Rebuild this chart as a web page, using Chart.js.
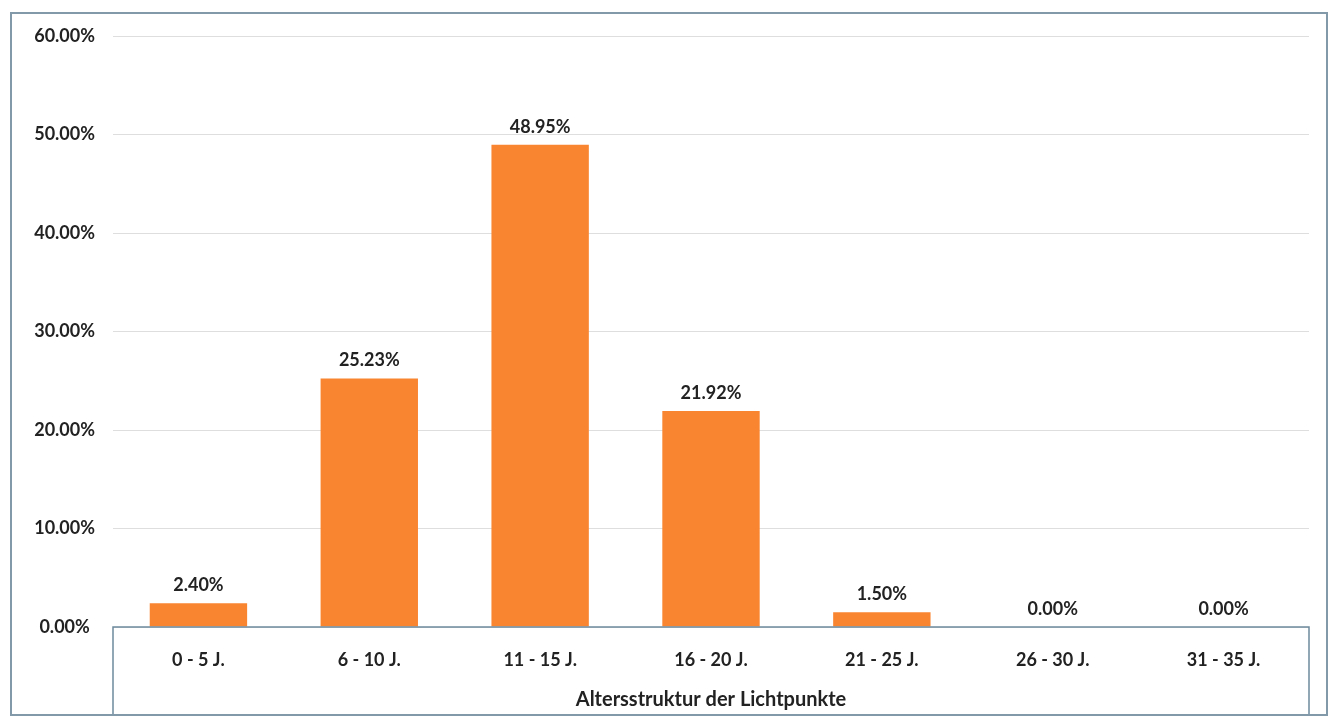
<!DOCTYPE html>
<html>
<head>
<meta charset="utf-8">
<script src="https://cdn.jsdelivr.net/npm/chart.js@4"></script>
<style>
  body { margin: 0; background: #fff; }
  #frame {
    position: absolute;
    left: 10px;
    top: 12px;
    width: 1314px;
    height: 700px;
    border: 2px solid #8299aa;
  }
  canvas { display: block; }
</style>
</head>
<body>
<div id="frame"><canvas id="ageChart"></canvas></div>
<script>
age_groups = ['0 - 5 J.', '6 - 10 J.', '11 - 15 J.', '16 - 20 J.', '21 - 25 J.', '26 - 30 J.', '31 - 35 J.']
age_shares = [2.40, 25.23, 48.95, 21.92, 1.50, 0.00, 0.00]
axis_title = 'Altersstruktur der Lichtpunkte'

const bar_color = '#f98531'
const text_color = '#222222'
const axis_line_color = '#6f8b9d'

// percent labels above every bar
const valueLabels = {
  id: 'valueLabels',
  afterDatasetsDraw(chart) {
    const ctx = chart.ctx
    ctx.save()
    ctx.font = 'bold 18px Lato'
    ctx.fillStyle = text_color
    ctx.textAlign = 'center'
    ctx.textBaseline = 'bottom'
    chart.getDatasetMeta(0).data.forEach(function(bar, i) {
      ctx.fillText(age_shares[i].toFixed(2) + '%', bar.x, bar.y - 9)
    })
    ctx.restore()
  }
}

// axis line plus the open box around the category labels
const categoryBox = {
  id: 'categoryBox',
  afterDraw(chart) {
    const ctx = chart.ctx
    const area = chart.chartArea
    ctx.save()
    ctx.strokeStyle = axis_line_color
    ctx.lineWidth = 1.5
    ctx.beginPath()
    ctx.moveTo(area.left, chart.height)
    ctx.lineTo(area.left, area.bottom)
    ctx.lineTo(area.right, area.bottom)
    ctx.lineTo(area.right, chart.height)
    ctx.stroke()
    ctx.restore()
  }
}

const ageChartCanvas = document.getElementById('ageChart')
new Chart(
  ageChartCanvas,
  {
    type: 'bar',
    data: {
      labels: age_groups,
      datasets: [
        {
          label: '%',
          data: age_shares,
          backgroundColor: bar_color,
          categoryPercentage: 1,
          barPercentage: 0.57,
        },
      ]
    },
    options: {
      responsive: true,
      maintainAspectRatio: false,
      animation: false,
      layout: {
        padding: { top: 22, right: 17, bottom: 0, left: 0 }
      },
      plugins: {
        legend: false,
        tooltip: false,
      },
      scales: {
        x: {
          grid: { display: false },
          border: { display: false },
          ticks: {
            color: text_color,
            font: { family: 'Lato', size: 18, weight: 'bold' },
            padding: 14,
            maxRotation: 0,
          },
          title: {
            display: true,
            text: axis_title,
            color: text_color,
            font: { family: 'Lato', size: 20, weight: 'bold' },
            padding: { top: 2, bottom: 2 },
          },
          afterFit(scale) { scale.height = 87 },
        },
        y: {
          min: 0,
          max: 60,
          grid: { color: '#dedede', drawTicks: false },
          border: { display: false },
          ticks: {
            stepSize: 10,
            color: text_color,
            font: { family: 'Lato', size: 18, weight: 'bold' },
            crossAlign: 'center',
            padding: 18,
            callback: (value) => value.toFixed(2) + '%',
          },
          afterFit(scale) {
            scale.width = 101
            scale.paddingTop = 0
          },
        }
      }
    },
    plugins: [valueLabels, categoryBox]
  }
)
</script>
</body>
</html>
